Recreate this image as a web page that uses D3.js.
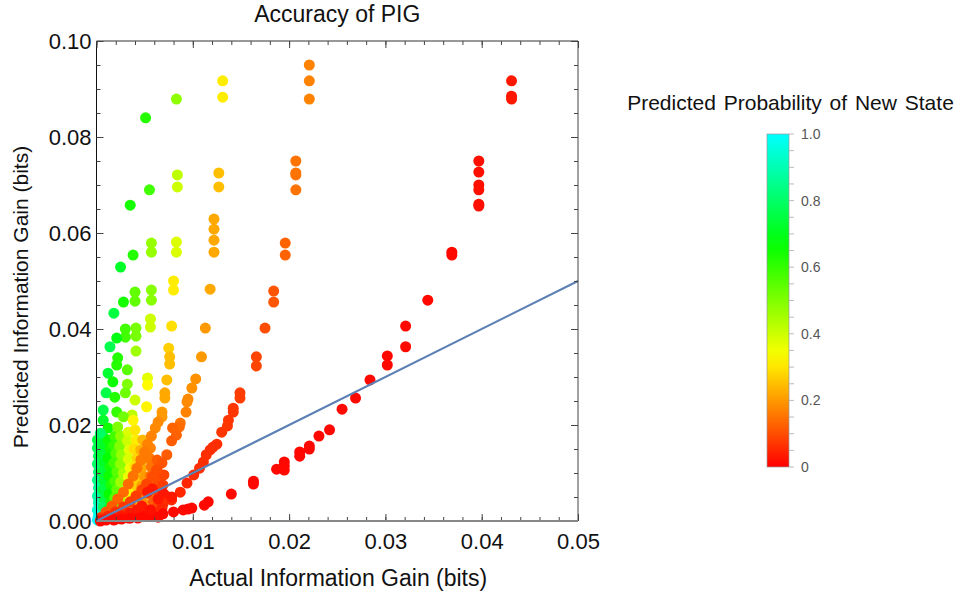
<!DOCTYPE html>
<html><head><meta charset="utf-8">
<script src="https://cdn.jsdelivr.net/npm/d3@7"></script>
<style>body{margin:0;background:#fff} text{font-family:"Liberation Sans",Arial,sans-serif}</style>
</head><body><svg id="c" width="955" height="594"></svg>
<script>
// [actual gain, predicted gain, predicted probability of new state]
const redLow=[[0.0431,0.0917,.03],[0.0431,0.0885,.03],[0.0431,0.0879,.03],
[0.0397,0.0750,.02],[0.0397,0.0727,.02],[0.0397,0.0700,.02],[0.0397,0.0690,.02],[0.0397,0.0660,.02],[0.0397,0.0656,.02],
[0.0369,0.0560,.01],[0.0369,0.0554,.01],[0.0344,0.0460,.01],[0.0321,0.0406,.01],[0.0321,0.0363,.01],
[0.0302,0.0344,.01],[0.0302,0.0325,.01],[0.0284,0.0294,.01],[0.0269,0.0256,.01],[0.0255,0.0233,.01],
[0.0242,0.0190,.01],[0.0231,0.0177,.01],[0.0221,0.0156,.01],[0.0221,0.0150,.01],[0.0211,0.0144,.01],[0.0211,0.0135,.01],
[0.0195,0.0123,.01],[0.0195,0.0115,.01],[0.0195,0.0106,.01],[0.0187,0.0108,.01],[0.0163,0.0083,.01],[0.0163,0.0077,.01],
[0.0140,0.0056,.01],[0.0116,0.0040,.01],[0.0112,0.0033,.01],[0.0099,0.0027,.01],[0.0095,0.0025,.01],
[0.0090,0.0023,.01],[0.0080,0.0019,.01],[0.0069,0.0015,.01],[0.0058,0.0010,.01],[0.0050,0.0010,.01],
[0.0043,0.0006,.01],[0.0035,0.0006,.01],[0.0026,0.0004,.01],[0.0018,0.0002,.01],[0.0010,0.0002,.01],[0.0004,0.0000,.01],
[0.0056,0.0023,.02],[0.0064,0.0008,.01]];
const redMid=[[0.0017,0.0006,.03],[0.0026,0.0010,.03],[0.0035,0.0017,.03],[0.0042,0.0023,.03],[0.0047,0.0031,.03],
[0.0053,0.0060,.03],[0.0058,0.0067,.03],[0.0064,0.0046,.03],[0.0069,0.0058,.03],[0.0078,0.0050,.03]];
const orangeRed=[[0.0221,0.0950,.17],[0.0221,0.0917,.17],[0.0221,0.0879,.17],
[0.0207,0.0750,.15],[0.0207,0.0725,.15],[0.0207,0.0721,.15],[0.0207,0.0690,.15],
[0.0196,0.0579,.13],[0.0196,0.0554,.13],[0.0184,0.0479,.11],[0.0184,0.0456,.11],[0.0175,0.0402,.1],
[0.0166,0.0342,.09],[0.0166,0.0323,.09],[0.0149,0.0267,.08],[0.0149,0.0256,.08],
[0.0142,0.0235,.07],[0.0142,0.0227,.07],[0.0137,0.0210,.07],[0.0136,0.0198,.07],[0.0130,0.0185,.07],
[0.0125,0.0160,.06],[0.0121,0.0154,.06],[0.0118,0.0148,.06],[0.0114,0.0138,.06],[0.0111,0.0123,.06],
[0.0107,0.0110,.06],[0.0101,0.0096,.06],[0.0094,0.0079,.05],[0.0087,0.0060,.05],[0.0078,0.0044,.05],
[0.0068,0.0027,.05],[0.0058,0.0017,.04],[0.0045,0.0010,.04],[0.0033,0.0006,.04],[0.0020,0.0004,.04]];
const orangeGold=[[0.0131,0.0917,.31],[0.0131,0.0883,.31],[0.0127,0.0725,.25],[0.0127,0.0696,.25],
[0.0122,0.0629,.22],[0.0122,0.0608,.22],[0.0122,0.0585,.22],[0.0122,0.0560,.22],[0.0118,0.0483,.22],
[0.0113,0.0402,.2],[0.0109,0.0342,.2],[0.0103,0.0296,.19],[0.0099,0.0277,.19],[0.0095,0.0254,.18],[0.0094,0.0248,.18],
[0.0093,0.0227,.17],[0.0087,0.0204,.15],[0.0086,0.0196,.14],[0.0079,0.0194,.13],[0.0083,0.0179,.13],[0.0078,0.0167,.12],
[0.0073,0.0138,.12],[0.0068,0.0121,.11],[0.0063,0.0106,.10],[0.0058,0.0092,.1],[0.0052,0.0077,.09],
[0.0047,0.0065,.09],[0.0041,0.0052,.08],[0.0035,0.0040,.08],[0.0028,0.0029,.07],[0.0020,0.0019,.06],
[0.0012,0.0010,.05],[0.0005,0.0004,.05]];
const yellowOrange=[[0.0076,0.0342,.25],[0.0076,0.0327,.25],[0.0073,0.0294,.25],[0.0071,0.0267,.22],[0.0071,0.0256,.22],
[0.0068,0.0227,.2],[0.0068,0.0217,.2],[0.0064,0.0206,.18],[0.0061,0.0194,.18],[0.0057,0.0177,.17],[0.0053,0.0160,.17],
[0.0050,0.0144,.16],[0.0046,0.0127,.16],[0.0042,0.0110,.15],[0.0038,0.0094,.15],[0.0033,0.0077,.14],
[0.0028,0.0060,.14],[0.0022,0.0046,.13],[0.0016,0.0031,.12],[0.0010,0.0019,.11],[0.0005,0.0008,.1]];
const upperPoints=[[0.0051,0.0840,.62],[0.0083,0.0879,.48],[0.0055,0.0690,.58],[0.0035,0.0658,.64],
[0.0084,0.0721,.42],[0.0084,0.0696,.4],[0.0057,0.0579,.47],[0.0057,0.0560,.47],[0.0083,0.0581,.38],[0.0083,0.0560,.38],
[0.0038,0.0554,.62],[0.0025,0.0529,.72],[0.0080,0.0500,.31],[0.0080,0.0481,.31],[0.0057,0.0481,.49],[0.0057,0.0460,.49],
[0.0040,0.0477,.54],[0.0040,0.0458,.54],[0.0028,0.0456,.64],[0.0018,0.0433,.75],[0.0056,0.0421,.4],[0.0056,0.0404,.4],
[0.0078,0.0406,.29],[0.0030,0.0400,.58],[0.0030,0.0383,.58],[0.0041,0.0402,.51],[0.0041,0.0385,.51],
[0.0021,0.0381,.69],[0.0014,0.0363,.77],[0.0075,0.0360,.27],[0.0041,0.0354,.46],[0.0022,0.0340,.62],[0.0021,0.0325,.62],
[0.0032,0.0315,.55],[0.0012,0.0308,.73],[0.0053,0.0298,.37],[0.0053,0.0283,.33],[0.0017,0.0290,.65],[0.0032,0.0285,.5],
[0.0010,0.0267,.76],[0.0030,0.0267,.52],[0.0019,0.0258,.62],[0.0040,0.0252,.4],[0.0052,0.0238,.32],[0.0007,0.0231,.76],
[0.0021,0.0227,.6],[0.0037,0.0221,.42],[0.0028,0.0217,.52],[0.0007,0.0210,.72],[0.0012,0.0194,.65],[0.0022,0.0196,.5],
[0.0038,0.0210,.32],[0.0004,0.0183,.8]];
const blobPoints=[
[0.0001,0.0169,.75],[0.0001,0.0152,.77],[0.0002,0.0135,.78],[0.0001,0.0119,.8],[0.0002,0.0102,.82],[0.0001,0.0085,.84],
[0.0002,0.0069,.86],[0.0001,0.0052,.88],[0.0002,0.0038,.9],[0.0001,0.0023,.94],[0.0002,0.0010,.97],[0.0001,0.0002,1.0],
[0.0004,0.0004,.96],[0.0006,0.0010,.92],
[0.0007,0.0175,.73],[0.0008,0.0156,.72],[0.0006,0.0138,.74],[0.0008,0.0121,.72],[0.0006,0.0102,.74],[0.0008,0.0083,.73],
[0.0007,0.0065,.75],[0.0008,0.0046,.76],[0.0007,0.0029,.8],[0.0009,0.0017,.82],
[0.0012,0.0169,.65],[0.0014,0.0150,.64],[0.0012,0.0131,.66],[0.0014,0.0113,.64],[0.0013,0.0094,.65],[0.0015,0.0075,.63],
[0.0013,0.0056,.66],[0.0015,0.0040,.64],[0.0013,0.0025,.68],
[0.0019,0.0177,.58],[0.0018,0.0158,.6],[0.0020,0.0140,.56],[0.0018,0.0121,.58],[0.0021,0.0102,.55],[0.0019,0.0083,.57],
[0.0021,0.0065,.54],[0.0019,0.0048,.56],[0.0021,0.0031,.52],[0.0018,0.0019,.55],
[0.0025,0.0177,.48],[0.0024,0.0156,.5],[0.0026,0.0138,.47],[0.0025,0.0119,.48],[0.0028,0.0100,.45],[0.0025,0.0081,.46],
[0.0029,0.0063,.43],[0.0026,0.0046,.44],[0.0029,0.0029,.4],[0.0025,0.0017,.42],
[0.0033,0.0185,.38],[0.0032,0.0167,.4],[0.0034,0.0148,.37],[0.0033,0.0129,.38],[0.0035,0.0110,.35],[0.0033,0.0092,.36],
[0.0036,0.0073,.33],[0.0034,0.0054,.34],[0.0036,0.0038,.3],[0.0033,0.0023,.32],
[0.0040,0.0190,.3],[0.0041,0.0169,.31],[0.0039,0.0150,.29],[0.0042,0.0131,.28],[0.0040,0.0113,.29],[0.0043,0.0094,.26],
[0.0041,0.0075,.27],[0.0043,0.0056,.24],[0.0041,0.0040,.25],[0.0043,0.0025,.22],
[0.0048,0.0169,.24],[0.0046,0.0148,.23],[0.0049,0.0129,.22],[0.0047,0.0110,.22],[0.0050,0.0092,.2],[0.0047,0.0073,.21],
[0.0050,0.0056,.18],[0.0048,0.0040,.19],[0.0050,0.0025,.16],
[0.0056,0.0152,.17],[0.0055,0.0131,.16],[0.0057,0.0113,.15],[0.0056,0.0094,.15],[0.0058,0.0075,.13],[0.0056,0.0056,.14],
[0.0059,0.0040,.12],[0.0056,0.0025,.13],
[0.0063,0.0127,.12],[0.0062,0.0106,.11],[0.0064,0.0085,.1],[0.0063,0.0065,.1],[0.0065,0.0044,.08],[0.0062,0.0027,.09],
[0.0070,0.0096,.09],[0.0069,0.0075,.08],[0.0071,0.0054,.07],[0.0069,0.0035,.06]];
const xTicks=[0,0.01,0.02,0.03,0.04,0.05];
const yTicks=[0,0.02,0.04,0.06,0.08,0.10];
const legendTicks=[0,0.2,0.4,0.6,0.8,1.0];
const refLine=[[0,0],[0.05,0.05]];

const svg=d3.select("#c");
const L=96.5,R=578,T=41,B=521;
const x=d3.scaleLinear().domain([0,0.05]).range([L,R]);
const y=d3.scaleLinear().domain([0,0.1]).range([B,T]);
const hue=p=>d3.hsl(180*p,1,0.5).toString();

// title
svg.append("text").attr("x",(L+R)/2).attr("y",22).attr("text-anchor","middle")
  .attr("font-size",23).attr("fill","#111").text("Accuracy of PIG");

// points
const all=[...blobPoints,...upperPoints,...yellowOrange,...orangeGold,...orangeRed,...redMid,...redLow];
svg.append("g").selectAll("circle").data(all).join("circle")
  .attr("cx",d=>x(d[0])).attr("cy",d=>y(d[1])).attr("r",5.5).attr("fill",d=>hue(d[2]));

// reference line
svg.append("path").datum(refLine).attr("d",d3.line().x(d=>x(d[0])).y(d=>y(d[1])))
  .attr("stroke","#5E81B5").attr("stroke-width",2.2).attr("fill","none");

// frame + ticks
const fr=svg.append("g");
const fmt=d3.format(".2f");
const xMinor=d3.range(0,0.0501,0.002), yMinor=d3.range(0,0.1001,0.005);
const ax=svg.append("g").attr("transform",`translate(0,${B})`)
  .call(d3.axisBottom(x).tickValues(xTicks).tickFormat(fmt).tickSize(-7).tickPadding(12));
ax.select(".domain").remove();
ax.selectAll("line").attr("stroke","#444");
ax.selectAll("text").attr("font-size",22).attr("fill","#111").attr("font-family","Liberation Sans, Arial, sans-serif");
svg.append("g").attr("transform",`translate(0,${B})`).call(d3.axisBottom(x).tickValues(xMinor).tickFormat("").tickSize(-4))
  .call(g=>g.select(".domain").remove()).selectAll("line").attr("stroke","#444");
svg.append("g").attr("transform",`translate(0,${T})`).call(d3.axisTop(x).tickValues(xTicks).tickFormat("").tickSize(-7))
  .call(g=>g.select(".domain").remove()).selectAll("line").attr("stroke","#444");
svg.append("g").attr("transform",`translate(0,${T})`).call(d3.axisTop(x).tickValues(xMinor).tickFormat("").tickSize(-4))
  .call(g=>g.select(".domain").remove()).selectAll("line").attr("stroke","#444");
const ay=svg.append("g").attr("transform",`translate(${L},0)`)
  .call(d3.axisLeft(y).tickValues(yTicks).tickFormat(fmt).tickSize(-7).tickPadding(5));
ay.select(".domain").remove();
ay.selectAll("line").attr("stroke","#444");
ay.selectAll("text").attr("font-size",22).attr("fill","#111").attr("font-family","Liberation Sans, Arial, sans-serif");
svg.append("g").attr("transform",`translate(${L},0)`).call(d3.axisLeft(y).tickValues(yMinor).tickFormat("").tickSize(-4))
  .call(g=>g.select(".domain").remove()).selectAll("line").attr("stroke","#444");
svg.append("g").attr("transform",`translate(${R},0)`).call(d3.axisRight(y).tickValues(yTicks).tickFormat("").tickSize(-7))
  .call(g=>g.select(".domain").remove()).selectAll("line").attr("stroke","#444");
svg.append("g").attr("transform",`translate(${R},0)`).call(d3.axisRight(y).tickValues(yMinor).tickFormat("").tickSize(-4))
  .call(g=>g.select(".domain").remove()).selectAll("line").attr("stroke","#444");
fr.append("line").attr("x1",L).attr("x2",L).attr("y1",T).attr("y2",B).attr("stroke","#111").attr("stroke-width",1);
fr.append("line").attr("x1",R).attr("x2",R).attr("y1",T).attr("y2",B).attr("stroke","#444").attr("stroke-width",1);
fr.append("line").attr("x1",L).attr("x2",R).attr("y1",T).attr("y2",T).attr("stroke","#333").attr("stroke-width",1);
svg.append("line").attr("x1",L).attr("x2",R).attr("y1",B).attr("y2",B).attr("stroke","#888").attr("stroke-width",2);

// axis labels
svg.append("text").attr("x",(L+R)/2+1).attr("y",586).attr("text-anchor","middle").attr("font-size",23).attr("fill","#111")
  .text("Actual Information Gain (bits)");
svg.append("text").attr("transform",`translate(28,${297}) rotate(-90)`).attr("text-anchor","middle").attr("font-size",21).attr("fill","#111")
  .text("Predicted Information Gain (bits)");

// legend
const lg=svg.append("g");
lg.append("text").attr("x",790.5).attr("y",110).attr("text-anchor","middle").attr("font-size",21).attr("fill","#111")
  .attr("word-spacing",2).text("Predicted Probability of New State");
const cy=d3.scaleLinear().domain([0,1]).range([467,134]);
const grad=svg.append("defs").append("linearGradient").attr("id","g1").attr("x1",0).attr("x2",0).attr("y1",1).attr("y2",0);
grad.selectAll("stop").data(d3.range(0,1.0001,0.05)).join("stop").attr("offset",d=>d).attr("stop-color",d=>hue(d));
lg.append("rect").attr("x",767).attr("y",cy(1)).attr("width",22).attr("height",cy(0)-cy(1)).attr("fill","url(#g1)")
  .attr("stroke","#999").attr("stroke-width",0.7);
lg.append("g").selectAll("line").data(d3.range(0,1.0001,0.05)).join("line")
  .attr("x1",789).attr("x2",794).attr("y1",d=>cy(d)).attr("y2",d=>cy(d)).attr("stroke","#bbb");
lg.append("g").selectAll("text").data(legendTicks).join("text").attr("x",801).attr("y",d=>cy(d)).attr("dy","0.35em")
  .attr("font-size",14).attr("fill","#555").text(d=>d===0?"0":d3.format(".1f")(d));
</script></body></html>
